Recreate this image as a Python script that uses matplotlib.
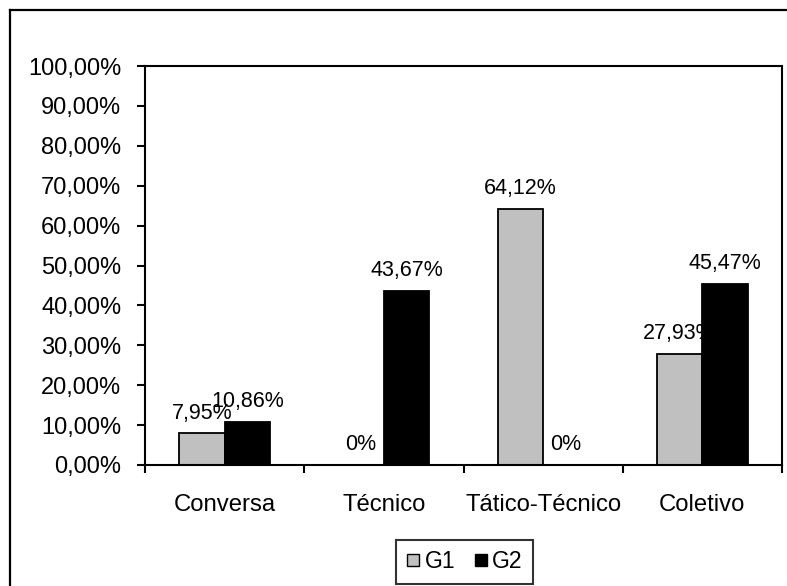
import matplotlib
matplotlib.use("Agg")

import numpy as np
import matplotlib.pyplot as plt
from matplotlib.lines import Line2D
from matplotlib.ticker import FixedLocator, FuncFormatter

plt.rcParams["font.family"] = ["Liberation Sans", "DejaVu Sans"]

categories = ["Conversa", "Técnico", "Tático-Técnico", "Coletivo"]
g1 = [7.95, 0.0, 64.12, 27.93]
g2 = [10.86, 43.67, 0.0, 45.47]
series_names = ["G1", "G2"]
y_ticks = list(range(0, 101, 10))


def pct(v):
    if v == 0:
        return "0%"
    return f"{v:.2f}%".replace(".", ",")


fig = plt.figure(figsize=(7.87, 5.86), dpi=100)
ax = fig.add_axes([145 / 787, 1 - 465 / 586, (782 - 145) / 787, (465 - 66) / 586])

x = np.arange(len(categories))
w = 0.286

# G1 bars and labels first so the G2 bars sit on top of overlapping text
bars1 = ax.bar(x - w / 2, g1, w, color="#C0C0C0", edgecolor="black", linewidth=1.3, zorder=2)
for b, v in zip(bars1, g1):
    ax.annotate(pct(v), (b.get_x() + b.get_width() / 2, v), xytext=(0, 7),
                textcoords="offset points", ha="center", va="bottom",
                fontsize=15.5, zorder=3)
bars2 = ax.bar(x + w / 2, g2, w, color="black", edgecolor="black", linewidth=1.3, zorder=4)
for b, v in zip(bars2, g2):
    ax.annotate(pct(v), (b.get_x() + b.get_width() / 2, v), xytext=(0, 7),
                textcoords="offset points", ha="center", va="bottom",
                fontsize=15.5, zorder=5)

ax.set_xlim(-0.5, len(categories) - 0.5)
ax.set_ylim(0, 100)
ax.set_yticks(y_ticks)
ax.yaxis.set_major_formatter(FuncFormatter(lambda v, _: f"{v:.2f}%".replace(".", ",")))
ax.set_xticks(x)
ax.set_xticklabels(categories)
ax.xaxis.set_minor_locator(FixedLocator(np.arange(-0.5, len(categories), 1.0)))

ax.tick_params(axis="x", which="major", length=0, pad=21, labelsize=17.2)
ax.tick_params(axis="x", which="minor", length=6, width=1.5, direction="out")
ax.tick_params(axis="y", length=6, width=1.5, direction="out", pad=11, labelsize=17)
for s in ax.spines.values():
    s.set_linewidth(1.5)

handles = [
    Line2D([], [], marker="s", linestyle="none", markersize=8,
           markerfacecolor="#C0C0C0", markeredgecolor="black", markeredgewidth=1),
    Line2D([], [], marker="s", linestyle="none", markersize=8,
           markerfacecolor="black", markeredgecolor="black", markeredgewidth=1),
]
leg = fig.legend(handles, series_names, loc="center", bbox_to_anchor=(464.5 / 787, 1 - 562 / 586),
                 ncol=2, fontsize=16.5, frameon=True, fancybox=False, handlelength=0.6,
                 handletextpad=0.2, columnspacing=0.8, borderpad=0.45)
leg.get_frame().set_edgecolor("black")
leg.get_frame().set_linewidth(1.5)

# outer chart border (runs off the right and bottom edges)
fig.add_artist(Line2D([10 / 787, 10 / 787], [1 - 10 / 586, -0.1], color="black", linewidth=1.6,
                      transform=fig.transFigure))
fig.add_artist(Line2D([10 / 787, 1.1], [1 - 10 / 586, 1 - 10 / 586], color="black", linewidth=1.6,
                      transform=fig.transFigure))

fig.savefig("out.png", dpi=100)
